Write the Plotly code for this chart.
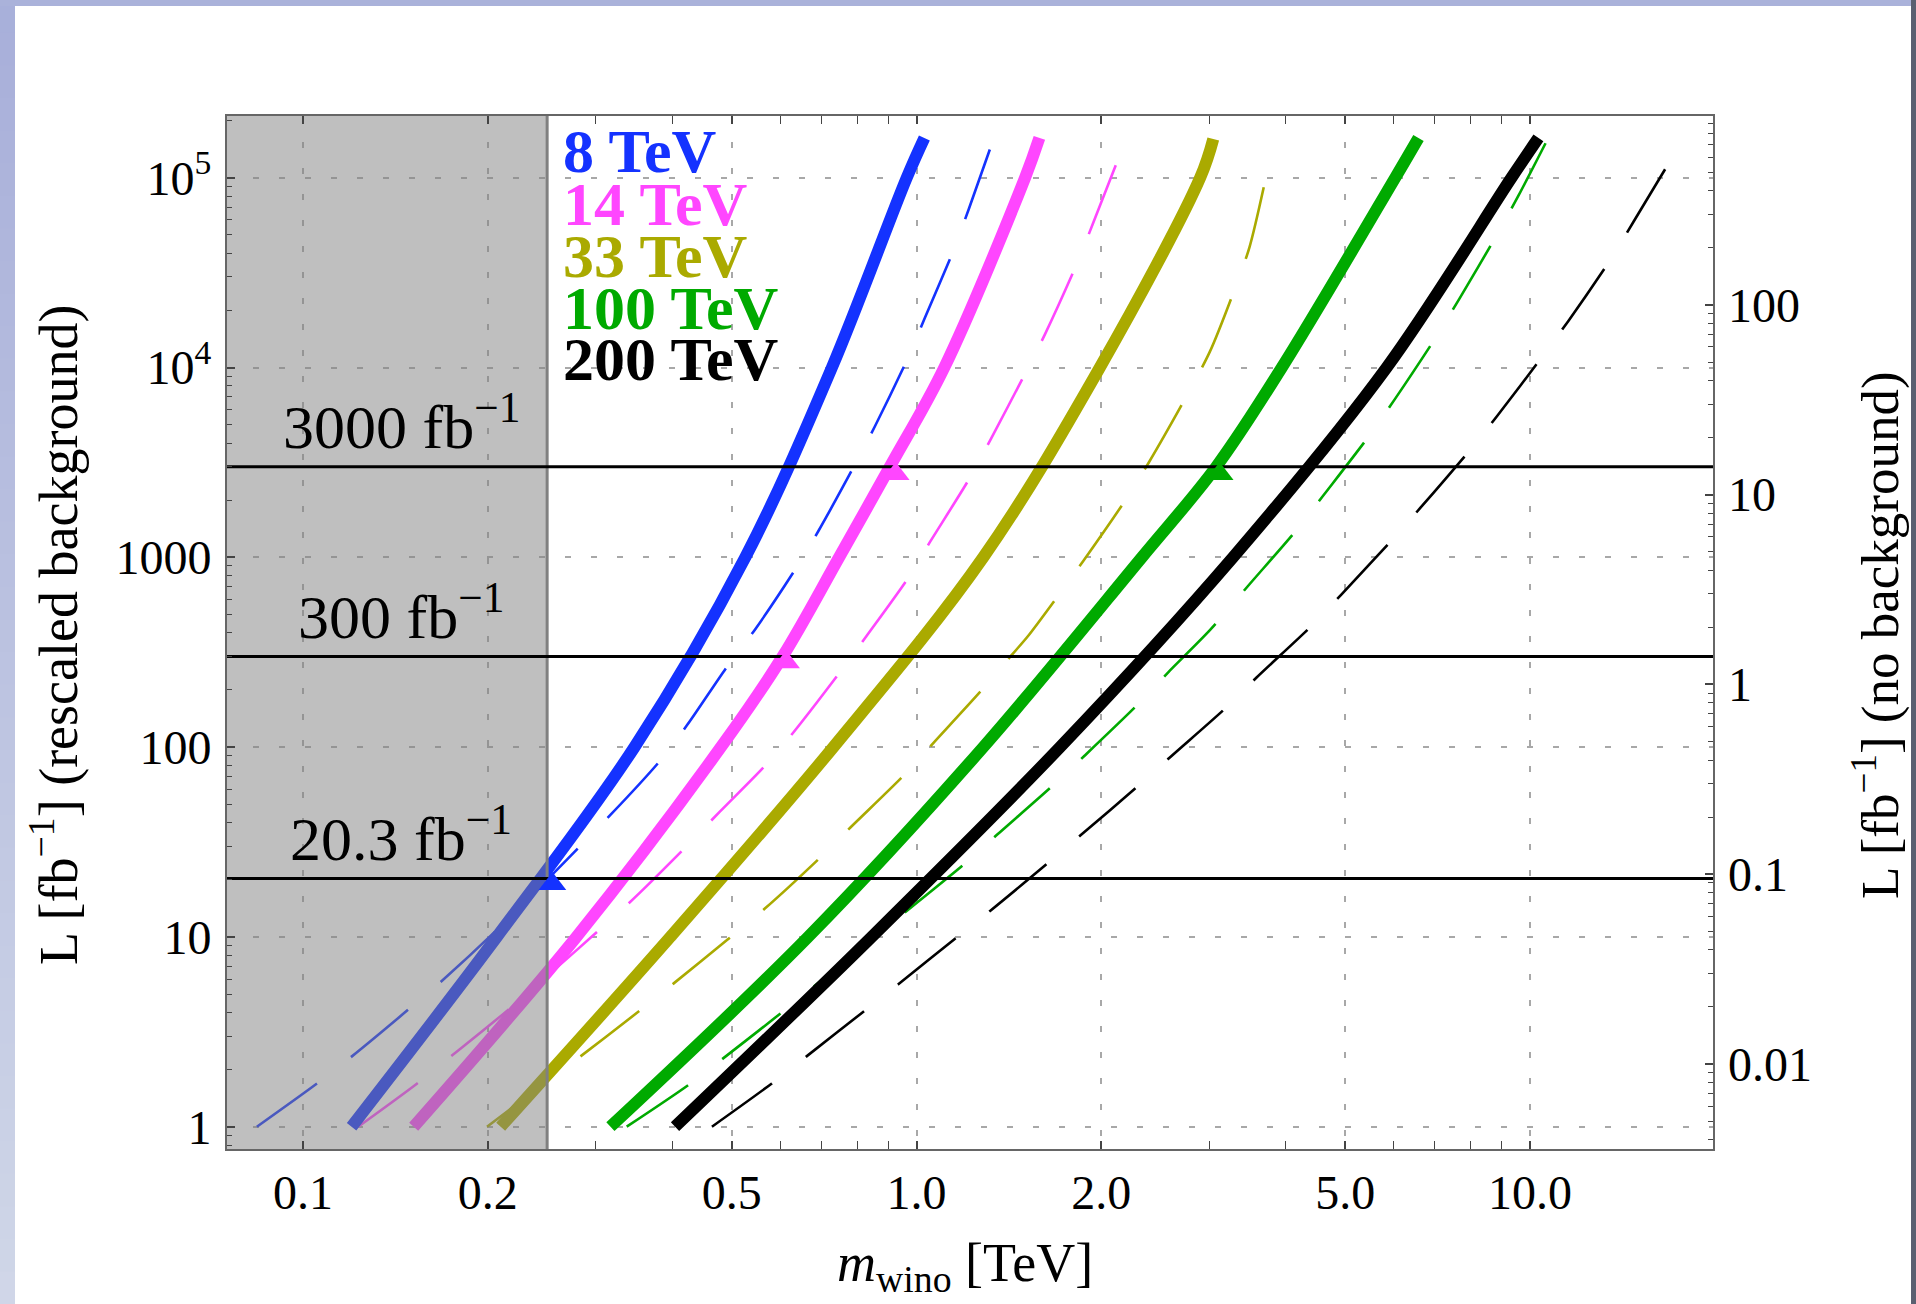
import numpy as np
import plotly.graph_objects as go

# ---------------- data ----------------
energy_labels = ["8 TeV", "14 TeV", "33 TeV", "100 TeV", "200 TeV"]
series_colors = ["#1432FF", "#FF46FF", "#AAAA00", "#00AA00", "#000000"]

# solid curves: L (rescaled background) vs wino mass [TeV]
m_solid_8 = [0.120, 0.207, 0.347, 0.526, 0.728, 0.964, 1.03]
L_solid_8 = [1, 10, 100, 1000, 1.0e4, 1.0e5, 1.62e5]
m_solid_14 = [0.1515, 0.279, 0.48, 0.605, 0.748, 0.905, 1.11, 1.503, 1.586]
L_solid_14 = [1, 10, 100, 300, 1000, 3000, 1.0e4, 1.0e5, 1.62e5]
m_solid_33 = [0.21, 0.397, 0.732, 1.285, 1.99, 2.90, 3.046]
L_solid_33 = [1, 10, 100, 1000, 1.0e4, 1.0e5, 1.6e5]
m_solid_100 = [0.317, 0.666, 1.285, 2.33, 3.08, 3.94, 6.03, 6.58]
L_solid_100 = [1, 10, 100, 1000, 3000, 1.0e4, 1.0e5, 1.62e5]
m_solid_200 = [0.404, 0.845, 1.714, 3.28, 5.84, 9.33, 10.32]
L_solid_200 = [1, 10, 100, 1000, 1.0e4, 1.0e5, 1.62e5]

# dashed curves (no background)
m_dash_8 = [0.0841, 0.1054, 0.120, 0.1486, 0.1685, 0.207, 0.317, 0.382, 0.423, 0.491,
            0.546, 0.637, 0.692, 0.794, 0.856, 0.968, 1.032, 1.151, 1.219, 1.337]
L_dash_8 = [1, 1.69, 2.34, 4.15, 5.88, 10.9, 43.9, 84.8, 131, 265,
            418, 881, 1376, 3090, 4920, 1.12e4, 1.83e4, 4.2e4, 6.95e4, 1.62e5]
m_dash_14 = [0.123, 0.1535, 0.174, 0.2164, 0.340, 0.416, 0.478, 0.566, 0.628, 0.748,
             0.829, 0.970, 1.052, 1.222, 1.321, 1.508, 1.62, 1.824, 1.937, 2.147]
L_dash_14 = [1, 1.69, 2.34, 4.15, 15.1, 28.7, 45.7, 79.6, 118, 245,
             385, 781, 1205, 2627, 4185, 9470, 1.5e4, 3.5e4, 5.68e4, 1.33e5]
m_dash_33 = [0.1995, 0.283, 0.355, 0.402, 0.491, 0.566, 0.696, 0.781, 0.955, 1.065, 1.285,
             1.43, 1.52, 1.70, 1.87, 2.195, 2.39, 2.75, 3.01, 3.30, 3.49, 3.72]
L_dash_33 = [1, 2.34, 4.12, 5.69, 9.63, 14.1, 26.1, 37.8, 71.3, 105, 204,
             306, 385, 625, 956, 2022, 3150, 6990, 1.22e4, 2.58e4, 4.31e4, 1.04e5]
m_dash_100 = [0.337, 0.425, 0.484, 0.603, 1.013, 1.20, 1.351, 1.671, 1.877, 2.30, 2.57,
              3.01, 3.47, 4.18, 4.62, 5.49, 6.03, 7.05, 7.67, 8.84, 9.57, 10.71]
L_dash_100 = [1, 1.66, 2.29, 4.0, 15.6, 24.4, 34.4, 63.1, 89.8, 169, 247,
              414, 706, 1415, 2148, 4446, 6855, 1.47e4, 2.3e4, 5.03e4, 8.01e4, 1.62e5]
m_dash_200 = [0.464, 0.581, 0.661, 0.822, 0.934, 1.163, 1.318, 1.64, 1.853, 2.30, 2.596, 3.20,
              3.58, 4.40, 4.93, 5.97, 6.63, 8.0, 8.84, 10.51, 11.55, 13.55, 14.74, 17.08]
L_dash_200 = [1, 1.69, 2.34, 4.07, 5.63, 9.95, 13.7, 24.6, 34.4, 62.6, 89, 162,
              232, 434, 638, 1244, 1825, 3706, 5555, 1.16e4, 1.76e4, 3.74e4, 5.84e4, 1.29e5]

# triangle markers (series index, mass, luminosity)
tri_series = [0, 1, 1, 3]
tri_m = [0.255, 0.613, 0.925, 3.12]
tri_L = [19.0, 280, 2750, 2750]

# luminosity reference lines
lumi_values = [3000, 300, 20.3]
lumi_labels = ["3000 fb<sup>\u22121</sup>", "300 fb<sup>\u22121</sup>", "20.3 fb<sup>\u22121</sup>"]

excluded_mass = 0.25  # TeV, shaded region below

x_tickvals = [0.1, 0.2, 0.5, 1, 2, 5, 10]
x_ticktext = ["0.1", "0.2", "0.5", "1.0", "2.0", "5.0", "10.0"]
y_tickvals = [1, 10, 100, 1000, 1e4, 1e5]
y_ticktext = ["1", "10", "100", "1000", "10<sup>4</sup>", "10<sup>5</sup>"]
y2_tickvals = [0.01, 0.1, 1, 10, 100]
y2_ticktext = ["0.01", "0.1", "1", "10", "100"]

# ---------------- layout constants ----------------
W, H = 1916, 1304
PL, PR, PT, PB = 227, 1713, 116, 1149
X_RANGE = [-1.1239, 1.2983]
Y_RANGE = [-0.1175, 5.3251]
RIGHT_OFFSET = 2.33
FONT = "Liberation Serif, Times New Roman, serif"


def px2paper_x(px):
    return (px - PL) / (PR - PL)


def px2paper_y(py):
    return (PB - py) / (PB - PT)


solids = [(m_solid_8, L_solid_8), (m_solid_14, L_solid_14), (m_solid_33, L_solid_33),
          (m_solid_100, L_solid_100), (m_solid_200, L_solid_200)]
dashes = [(m_dash_8, L_dash_8), (m_dash_14, L_dash_14), (m_dash_33, L_dash_33),
          (m_dash_100, L_dash_100), (m_dash_200, L_dash_200)]

fig = go.Figure()

for (mx, ly), c in zip(dashes, series_colors):
    fig.add_trace(go.Scatter(x=mx, y=ly, mode="lines",
                             line=dict(color=c, width=2.6, dash="74px,43px", shape="spline", smoothing=0.8),
                             showlegend=False, hoverinfo="skip"))
for (mx, ly), c in zip(solids, series_colors):
    fig.add_trace(go.Scatter(x=mx, y=ly, mode="lines",
                             line=dict(color=c, width=12, shape="spline", smoothing=1.0),
                             showlegend=False, hoverinfo="skip"))

# shaded excluded region (drawn over the curves, semi-transparent)
xl = 10 ** (X_RANGE[0] - 0.05)
yb = 10 ** (Y_RANGE[0] - 0.05)
yt = 10 ** (Y_RANGE[1] + 0.05)
fig.add_trace(go.Scatter(x=[xl, excluded_mass, excluded_mass, xl, xl], y=[yb, yb, yt, yt, yb],
                         mode="lines", fill="toself", fillcolor="rgba(128,128,128,0.5)",
                         line=dict(width=0), showlegend=False, hoverinfo="skip"))
fig.add_trace(go.Scatter(x=[excluded_mass, excluded_mass], y=[yb, yt], mode="lines",
                         line=dict(color="rgb(128,128,128)", width=3),
                         showlegend=False, hoverinfo="skip"))

xr = 10 ** (X_RANGE[1] + 0.05)
for lv in lumi_values:
    fig.add_trace(go.Scatter(x=[xl, xr], y=[lv, lv], mode="lines",
                             line=dict(color="black", width=3),
                             showlegend=False, hoverinfo="skip"))

fig.add_trace(go.Scatter(x=tri_m, y=tri_L, mode="markers",
                         marker=dict(symbol="triangle-up", size=24,
                                     color=[series_colors[i] for i in tri_series], line=dict(width=0)),
                         showlegend=False, hoverinfo="skip"))

# invisible trace to activate right axis
fig.add_trace(go.Scatter(x=[1], y=[1], yaxis="y2", mode="markers", marker=dict(opacity=0),
                         showlegend=False, hoverinfo="skip"))

tickfont = dict(family=FONT, size=48, color="black")
x_minor = [k * 10 ** d for d in (-1, 0) for k in (3, 4, 6, 7, 8, 9)]
y_minor = [k * 10 ** d for d in range(-1, 6) for k in range(2, 10)]
y2_minor = [k * 10 ** d for d in range(-3, 3) for k in range(2, 10)]

fig.update_layout(
    width=W, height=H, autosize=False,
    margin=dict(l=PL, r=W - PR, t=PT, b=H - PB, pad=0),
    paper_bgcolor="white", plot_bgcolor="white",
    showlegend=False,
    xaxis=dict(type="log", range=X_RANGE, tickmode="array", tickvals=x_tickvals, ticktext=x_ticktext,
               ticks="inside", ticklen=8, tickwidth=1.5, tickcolor="#444",
               showline=True, linecolor="#666", linewidth=2, mirror="allticks",
               showgrid=True, gridcolor="#A8A8A8", gridwidth=1.5, griddash="6px,20px",
               zeroline=False, tickfont=tickfont, ticklabelstandoff=0,
               minor=dict(tickmode="array", tickvals=x_minor, ticks="inside", ticklen=5,
                          tickwidth=1.2, tickcolor="#444", showgrid=False)),
    yaxis=dict(type="log", range=Y_RANGE, tickmode="array", tickvals=y_tickvals, ticktext=y_ticktext,
               ticks="inside", ticklen=8, tickwidth=1.5, tickcolor="#444",
               showline=True, linecolor="#666", linewidth=2, mirror=True,
               showgrid=True, gridcolor="#A8A8A8", gridwidth=1.5, griddash="6px,20px",
               zeroline=False, tickfont=tickfont, ticklabelstandoff=4,
               minor=dict(tickmode="array", tickvals=y_minor, ticks="inside", ticklen=5,
                          tickwidth=1.2, tickcolor="#444", showgrid=False)),
    yaxis2=dict(type="log", overlaying="y", side="right",
                range=[Y_RANGE[0] - RIGHT_OFFSET, Y_RANGE[1] - RIGHT_OFFSET],
                tickmode="array", tickvals=y2_tickvals, ticktext=y2_ticktext,
                ticks="inside", ticklen=8, tickwidth=1.5, tickcolor="#444",
                showline=False, showgrid=False, zeroline=False, tickfont=tickfont,
                ticklabelstandoff=14,
                minor=dict(tickmode="array", tickvals=y2_minor, ticks="inside", ticklen=5,
                           tickwidth=1.2, tickcolor="#444", showgrid=False)),
)

annotations = []
# energy legend labels
legend_centers = [151, 204, 256, 308, 359]
for lab, col, yc in zip(energy_labels, series_colors, legend_centers):
    annotations.append(dict(xref="paper", yref="paper", x=px2paper_x(561), y=px2paper_y(yc),
                            xanchor="left", yanchor="middle", showarrow=False,
                            text="<b>" + lab + "</b>",
                            font=dict(family=FONT, size=62, color=col)))
# luminosity labels
for lv, lab in zip(lumi_values, lumi_labels):
    annotations.append(dict(xref="paper", yref="y", x=px2paper_x(401), y=np.log10(lv),
                            xanchor="center", yanchor="bottom", yshift=4, showarrow=False,
                            text=lab, font=dict(family=FONT, size=62, color="black")))
# axis titles
annotations.append(dict(xref="paper", yref="paper", x=px2paper_x(965), y=px2paper_y(1266),
                        xanchor="center", yanchor="middle", showarrow=False,
                        text="<i>m</i><sub>wino</sub> [TeV]",
                        font=dict(family=FONT, size=54, color="black")))
annotations.append(dict(xref="paper", yref="paper", x=px2paper_x(55), y=px2paper_y(635),
                        xanchor="center", yanchor="middle", showarrow=False, textangle=-90,
                        text="L [fb<sup>\u22121</sup>] (rescaled background)",
                        font=dict(family=FONT, size=54, color="black")))
annotations.append(dict(xref="paper", yref="paper", x=px2paper_x(1877), y=px2paper_y(635),
                        xanchor="center", yanchor="middle", showarrow=False, textangle=-90,
                        text="L [fb<sup>\u22121</sup>] (no background)",
                        font=dict(family=FONT, size=53, color="black")))
fig.update_layout(annotations=annotations)

# slide frame strips around the figure (smooth vertical gradient on the left)
shapes = []
top_rgb = np.array([168, 176, 218])
bot_rgb = np.array([208, 214, 232])
n = 40
for i in range(n):
    t = i / (n - 1)
    r, g, b = (top_rgb + (bot_rgb - top_rgb) * t).astype(int)
    shapes.append(dict(type="rect", xref="paper", yref="paper", layer="above",
                       x0=px2paper_x(0), x1=px2paper_x(15),
                       y0=px2paper_y(i * H / n), y1=px2paper_y((i + 1) * H / n + 1),
                       fillcolor=f"rgb({r},{g},{b})", line=dict(width=0)))
shapes.append(dict(type="rect", xref="paper", yref="paper", layer="above",
                   x0=px2paper_x(0), x1=px2paper_x(W), y0=px2paper_y(0), y1=px2paper_y(6),
                   fillcolor="#AAB2DA", line=dict(width=0)))
shapes.append(dict(type="rect", xref="paper", yref="paper", layer="above",
                   x0=px2paper_x(1911), x1=px2paper_x(W), y0=px2paper_y(0), y1=px2paper_y(H),
                   fillcolor="#5A5F70", line=dict(width=0)))
fig.update_layout(shapes=shapes)

fig.write_html("out.html", config={"displayModeBar": False},
               post_script="document.body.style.margin='0px';document.body.style.overflow='hidden';")
